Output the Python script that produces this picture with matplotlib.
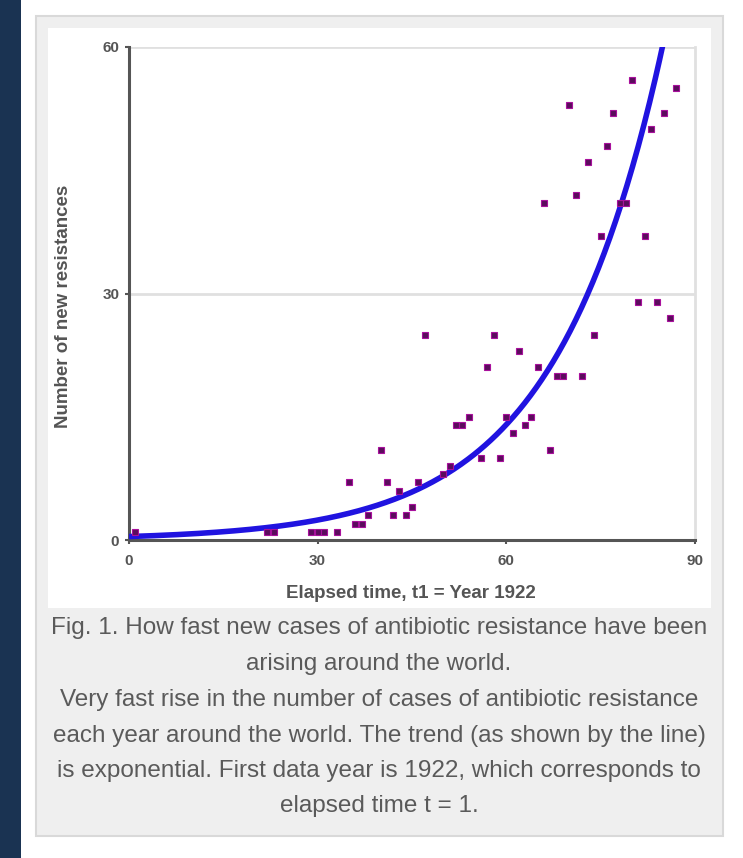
import numpy as np
import matplotlib
matplotlib.use("Agg")
import matplotlib.pyplot as plt
from matplotlib.patches import Rectangle

# Year offsets (t = 1 is 1922) and number of new resistances recorded
elapsed_t = [1, 22, 23, 29, 30, 31, 33, 35, 36, 37, 38, 40, 41, 42, 43, 44, 45,
             46, 47, 50, 51, 52, 53, 54, 56, 57, 58, 59, 60, 61, 62, 63, 64, 65,
             66, 67, 68, 69, 70, 71, 72, 73, 74, 75, 76, 77, 78, 79, 80, 81, 82,
             83, 84, 85, 86, 87]
new_resistances = [1, 1, 1, 1, 1, 1, 1, 7, 2, 2, 3, 11, 7, 3, 6, 3, 4,
                   7, 25, 8, 9, 14, 14, 15, 10, 21, 25, 10, 15, 13, 23, 14, 15, 21,
                   41, 11, 20, 20, 53, 42, 20, 46, 25, 37, 48, 52, 41, 41, 56, 29, 37,
                   50, 29, 52, 27, 55]

# Exponential trend y = a * exp(b * t)
trend_a = 0.42
trend_b = 0.0585

x_ticks = [0, 30, 60, 90]
y_ticks = [0, 30, 60]
x_label = "Elapsed time, t1 = Year 1922"
y_label = "Number of new resistances"
caption_lines = [
    "Fig. 1. How fast new cases of antibiotic resistance have been",
    "arising around the world.",
    "Very fast rise in the number of cases of antibiotic resistance",
    "each year around the world. The trend (as shown by the line)",
    "is exponential. First data year is 1922, which corresponds to",
    "elapsed time t = 1.",
]

W, H = 743, 858
fig = plt.figure(figsize=(W / 100, H / 100), dpi=100)
fig.patch.set_facecolor("white")


def fx(px):
    return px / W


def fy(py):
    return 1 - py / H


def frect(x0, y0, x1, y1, **kw):
    fig.patches.append(Rectangle((fx(x0), fy(y1)), fx(x1) - fx(x0), fy(y0) - fy(y1),
                                 transform=fig.transFigure, **kw))


# page background strip, caption panel and white chart card
frect(0, 0, 21, H, facecolor="#1a3352", edgecolor="none", zorder=-3)
frect(36, 16, 723, 836, facecolor="#efefef", edgecolor="#d9d9d9", linewidth=1.5, zorder=-2)
frect(48, 28, 711, 608, facecolor="white", edgecolor="none", zorder=-1)

ax = fig.add_axes([fx(129), fy(540), fx(695) - fx(129), fy(47) - fy(540)])
ax.set_zorder(2)
ax.set_facecolor("none")
ax.set_xlim(0, 90)
ax.set_ylim(0, 60)

for yv in [30, 60]:
    ax.axhline(yv, color="#e0e0e0", linewidth=2, zorder=1)

t_curve = np.linspace(0, 90, 400)
ax.plot(t_curve, trend_a * np.exp(trend_b * t_curve), color="#2013e0",
        linewidth=4, solid_capstyle="butt", zorder=3)
ax.plot(elapsed_t, new_resistances, linestyle="none", marker="s", markersize=4.4,
        markerfacecolor="#5a0c5c", markeredgecolor="#a8109c", markeredgewidth=0.8,
        zorder=4, clip_on=False)

ax.spines["top"].set_visible(False)
ax.spines["right"].set_color("#e0e0e0")
ax.spines["right"].set_linewidth(2)
for side in ["left", "bottom"]:
    ax.spines[side].set_color("#555555")
    ax.spines[side].set_linewidth(2.2)

ax.set_xticks(x_ticks)
ax.set_yticks(y_ticks)
tick_font = dict(family="Liberation Sans", weight="bold", size=11)
ax.set_xticklabels([str(v) for v in x_ticks], fontdict=tick_font, color="#555555")
ax.set_yticklabels([str(v) for v in y_ticks], fontdict=tick_font, color="#555555")
ax.tick_params(axis="x", length=3, width=1.5, color="#555555", pad=7)
ax.tick_params(axis="y", length=3, width=1.5, color="#555555", pad=4)

fig.text(fx(411), fy(594), x_label, ha="center", va="center",
         family="Liberation Sans", weight="bold", size=13.5, color="#555555")
fig.text(fx(64), fy(306), y_label, ha="center", va="center", rotation=90,
         family="Liberation Sans", weight="bold", size=13.5, color="#555555")

line_y = [628, 664, 700, 736, 771, 806]
for text, py in zip(caption_lines, line_y):
    fig.text(fx(379), fy(py), text, ha="center", va="center",
             family="Liberation Sans", size=17.5, color="#5a5a5a")

fig.savefig("out.png", dpi=100)
